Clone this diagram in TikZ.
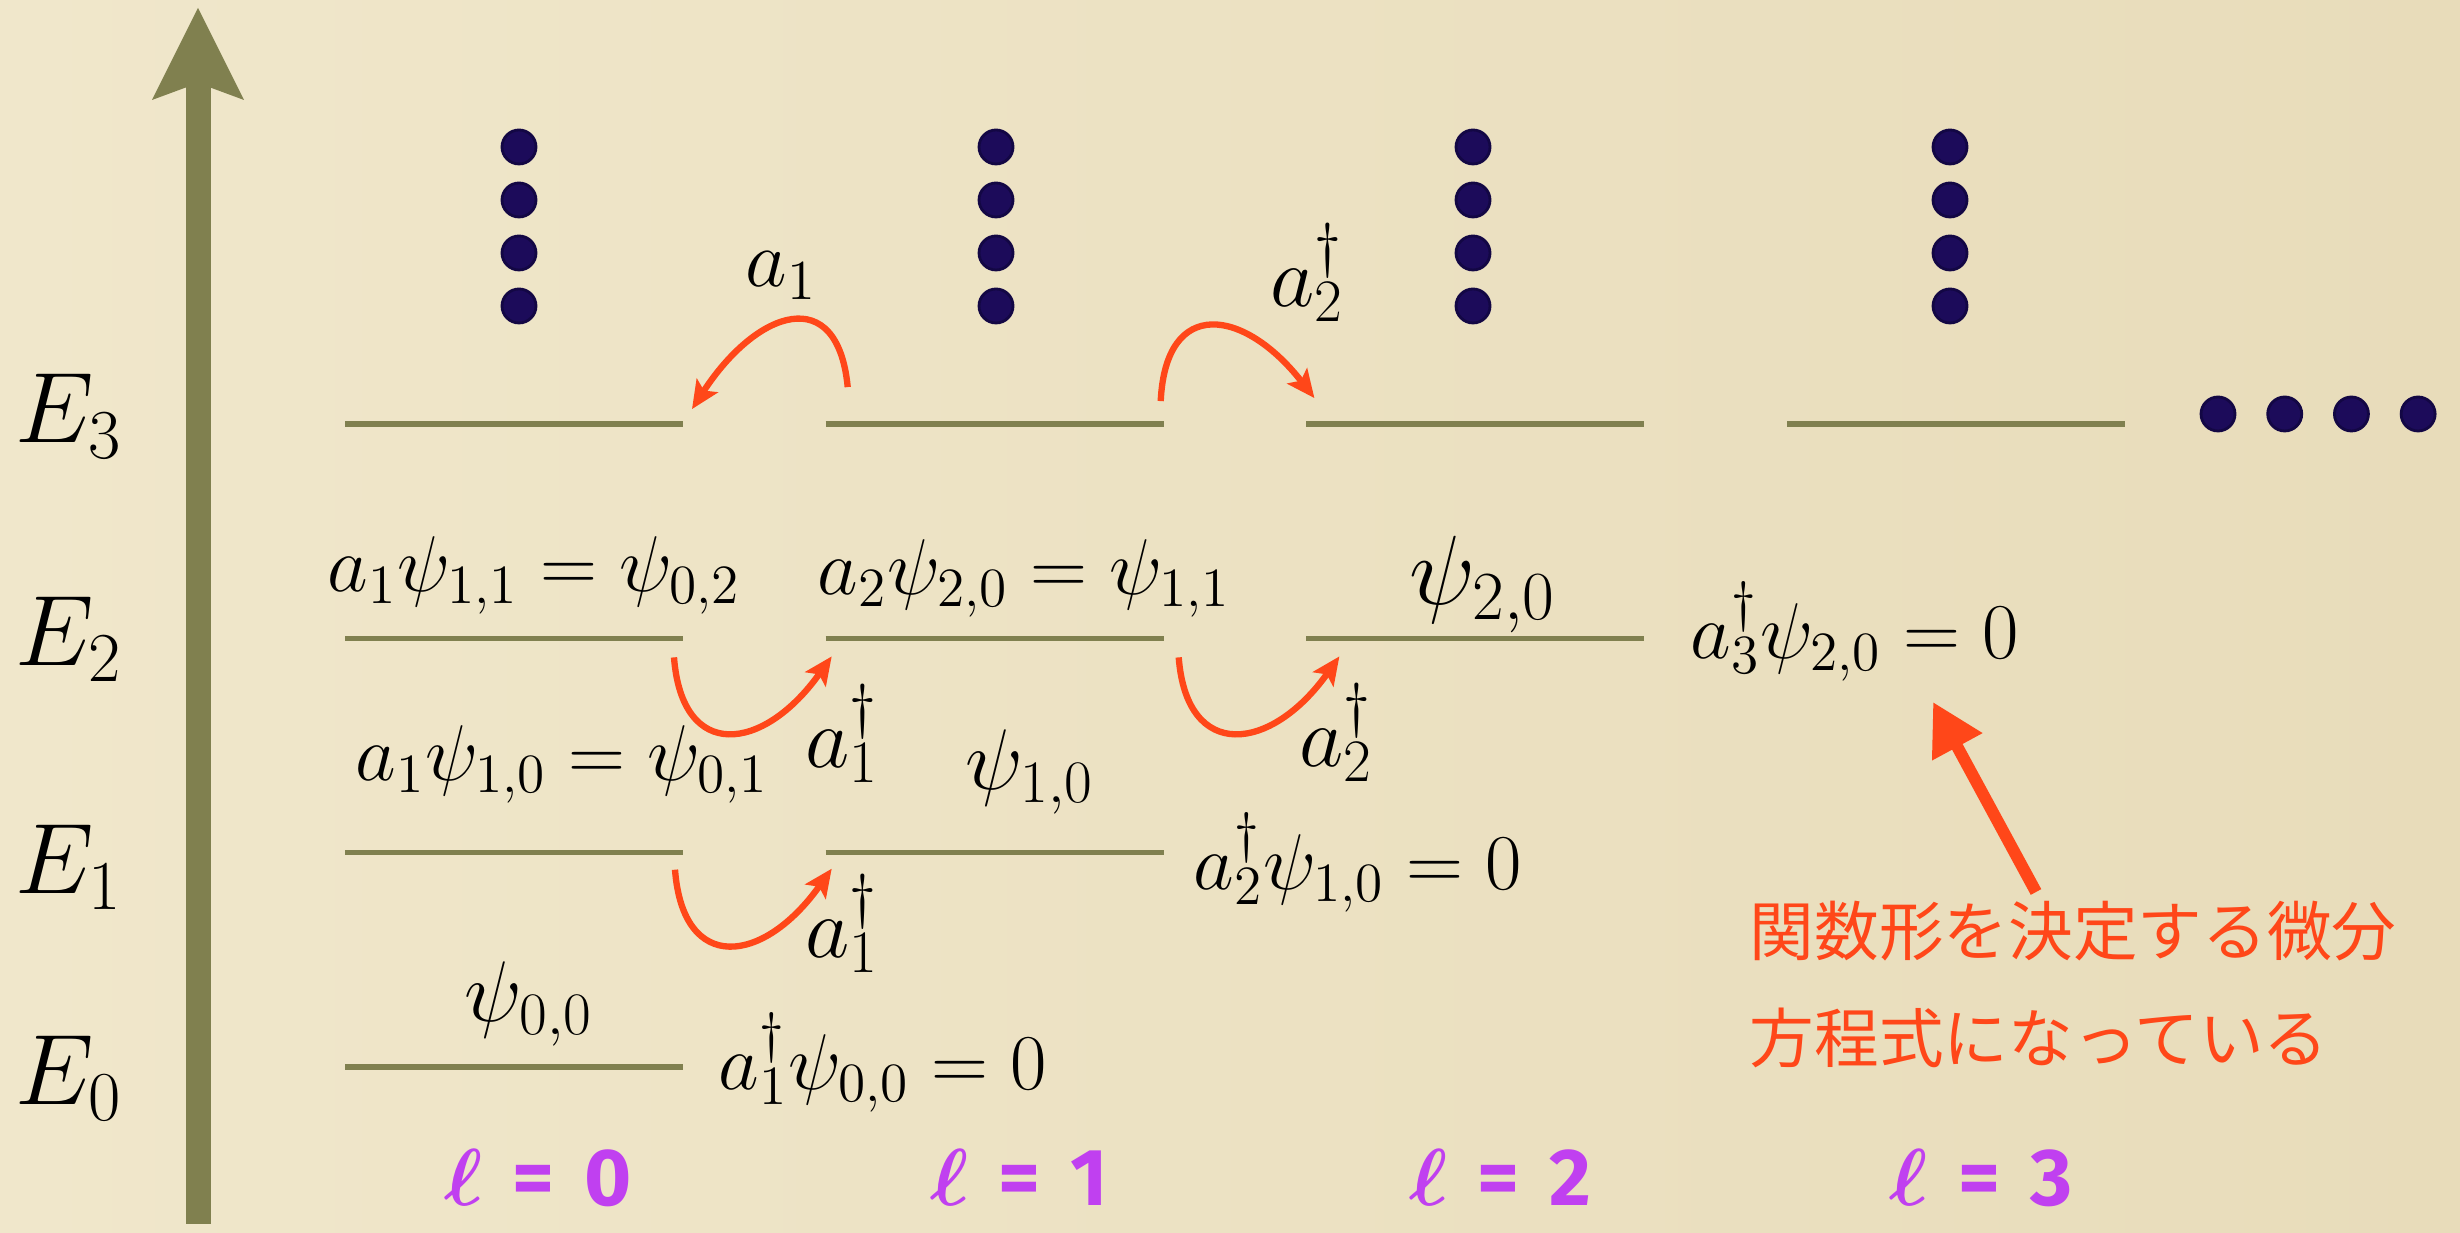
\RequirePackage{fix-cm}
\documentclass[tikz,border=0pt]{standalone}
\usepackage{fontspec}
\newfontfamily\jpfont{Noto Sans CJK JP}
\newfontfamily\ellfont{Fira Sans}
\usetikzlibrary{arrows.meta,calc}
\definecolor{paperlight}{HTML}{F0E7CB}
\definecolor{paperdark}{HTML}{E8DCBA}
\definecolor{levelgreen}{HTML}{80804F}
\definecolor{ladder}{HTML}{FF4719}
\definecolor{dotblue}{HTML}{1C0B5A}
\definecolor{dotrim}{HTML}{130744}
\definecolor{ellpurple}{HTML}{C040F0}

\begin{document}
\begin{tikzpicture}[
  level/.style={draw=levelgreen, line width=1.5pt},
  jump/.style={draw=ladder, line width=1.8pt, -{Stealth[length=2.8mm, width=2.5mm, inset=0.6mm]}},
  energy/.style={inner sep=0pt, anchor=base west, font=\fontsize{28.5}{32}\selectfont},
  state/.style={inner sep=0pt, anchor=base, font=\fontsize{24.5}{28}\selectfont},
  relation/.style={inner sep=0pt, anchor=base west, font=\fontsize{22.5}{26}\selectfont},
  ladderop/.style={inner sep=0pt, anchor=base, font=\fontsize{24.5}{28}\selectfont},
  lval/.style={inner sep=0pt, anchor=base, text=ellpurple, font=\ellfont\bfseries\fontsize{23}{27}\selectfont},
  dot/.style={circle, fill=dotblue, draw=dotrim, line width=0.8pt, minimum size=3.4mm, inner sep=0pt},
  note/.style={inner sep=0pt, anchor=west, text=ladder, font=\jpfont\fontsize{18.4}{22}\selectfont}
]
\useasboundingbox (0,0) rectangle (24.6,12.33);
% paper
\shade[left color=paperlight, right color=paperdark] (0,0) rectangle (24.6,12.33);

% energy axis
\coordinate (axisfoot) at (1.98,0.09);
\coordinate (axistop) at (1.98,12.25);
\draw[levelgreen, line width=0.25cm,
  -{Stealth[length=9.2mm, width=9.2mm, inset=1.7mm, line width=0pt]}] (axisfoot) -- (axistop);

\node[energy] (E0) at (0.15,1.28) {$E_0$};
\node[energy] (E1) at (0.15,3.39) {$E_1$};
\node[energy] (E2) at (0.15,5.67) {$E_2$};
\node[energy] (E3) at (0.15,7.90) {$E_3$};

% levels: column l starts at n = l
\foreach \l in {0,...,3}
  \foreach \n in {\l,...,3} {
    \coordinate (w\l\n) at ({3.45+4.807*\l},{1.66+2.143*\n});
    \coordinate (e\l\n) at ({6.83+4.807*\l},{1.66+2.143*\n});
    \draw[level] (w\l\n) -- (e\l\n);
  }

% higher states not drawn
\foreach \l in {0,...,3}
  \foreach \k in {0,...,3}
    \node[dot] (v\l\k) at ({5.19+4.77*\l},{10.86-0.53*\k}) {};
\foreach \k in {0,...,3}
  \node[dot] (h\k) at ({22.18+0.667*\k},8.19) {};

% states and relations
\node[state] (psi00) at (5.29,2.11) {$\psi_{0,0}$};
\node[relation] (low0) at (7.18,1.43) {$a_1^\dagger\psi_{0,0} = 0$};
\node[relation] (down10) at (3.55,4.52) {$a_1\psi_{1,0} = \psi_{0,1}$};
\node[state] (psi10) at (10.30,4.43) {$\psi_{1,0}$};
\node[relation] (low1) at (11.93,3.43) {$a_2^\dagger\psi_{1,0} = 0$};
\node[relation] (down11) at (3.27,6.41) {$a_1\psi_{1,1} = \psi_{0,2}$};
\node[relation] (down20) at (8.17,6.38) {$a_2\psi_{2,0} = \psi_{1,1}$};
\node[state, font=\fontsize{28}{32}\selectfont] (psi20) at (14.83,6.28) {$\psi_{2,0}$};
\node[relation] (low2) at (16.90,5.74) {$a_3^\dagger\psi_{2,0} = 0$};

% ladder operators
\node[ladderop, font=\fontsize{23}{27}\selectfont] (opA) at (7.81,9.46) {$a_1$};
\node[ladderop] (opB) at (13.07,9.26) {$a_2^\dagger$};
\node[ladderop] (opC) at (8.42,4.65) {$a_1^\dagger$};
\node[ladderop] (opD) at (8.42,2.75) {$a_1^\dagger$};
\node[ladderop] (opE) at (13.36,4.66) {$a_2^\dagger$};

\coordinate (a1s) at ($(w13)+(0.22,0.37)$);
\coordinate (a1t) at ($(e03)+(0.09,0.15)$);
\coordinate (a2s) at ($(e13)+(-0.03,0.23)$);
\coordinate (a2t) at ($(w23)+(0.08,0.26)$);
\coordinate (b1s) at ($(e02)+(-0.09,-0.19)$);
\coordinate (b1t) at ($(w12)+(0.06,-0.18)$);
\coordinate (b2s) at ($(e12)+(0.15,-0.19)$);
\coordinate (b2t) at ($(w22)+(0.33,-0.18)$);
\coordinate (c1s) at ($(e01)+(-0.08,-0.17)$);
\coordinate (c1t) at ($(w11)+(0.06,-0.16)$);

\draw[jump] (a1s) .. controls ($(a1s)+(-0.1,1.05)$) and ($(a1t)+(0.65,1.0)$) .. (a1t);
\draw[jump] (a2s) .. controls ($(a2s)+(0.05,1.05)$) and ($(a2t)+(-0.7,0.9)$) .. (a2t);
\draw[jump] (b1s) .. controls ($(b1s)+(0.08,-1.05)$) and ($(b1t)+(-0.68,-0.96)$) .. (b1t);
\draw[jump] (b2s) .. controls ($(b2s)+(0.08,-1.05)$) and ($(b2t)+(-0.68,-0.96)$) .. (b2t);
\draw[jump] (c1s) .. controls ($(c1s)+(0.08,-1.05)$) and ($(c1t)+(-0.68,-0.96)$) .. (c1t);

% remark
\node[note] (note1) at (17.49,3.02) {関数形を決定する微分};
\node[note] (note2) at (17.49,1.95) {方程式になっている};
\coordinate (pinfoot) at (20.36,3.41);
\coordinate (pinhead) at (19.33,5.31);
\draw[ladder, line width=3.4pt, -{Triangle[length=5.1mm, width=5.4mm]}] (pinfoot) -- (pinhead);

% l values
\foreach \l in {0,...,3}
  \node[lval] (ell\l) at ({5.38+4.81*\l},0.27) {{\boldmath$\ell$}\hspace{0.3cm}=\hspace{0.3cm}\l};
\end{tikzpicture}
\end{document}
